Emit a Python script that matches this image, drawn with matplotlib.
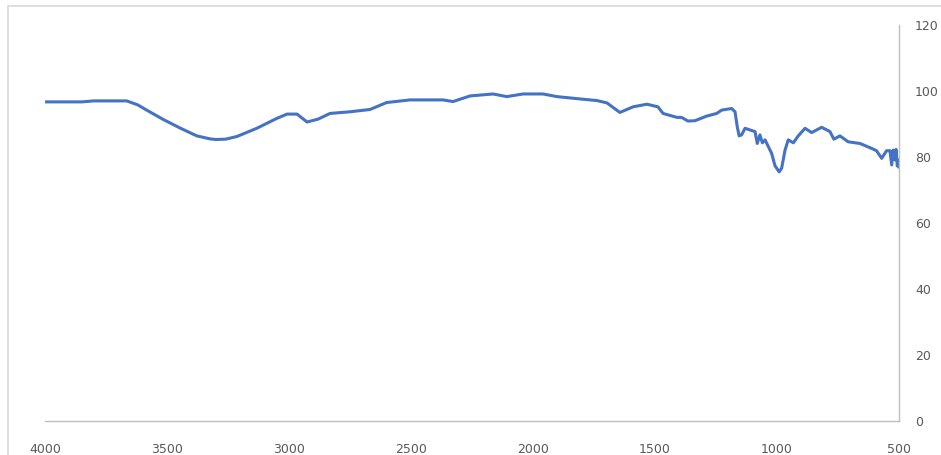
import matplotlib.pyplot as plt
from matplotlib.patches import Rectangle

# wavenumber (cm-1) and transmittance (%)
wavenumber = [4000, 3900, 3850, 3800, 3700, 3665, 3620, 3583, 3516, 3447, 3378, 3324, 3300,
              3260, 3214, 3132, 3050, 3008, 2967, 2926, 2880, 2832, 2750, 2668, 2600,
              2504, 2369, 2328, 2258, 2164, 2107, 2041, 1959, 1902, 1808, 1738, 1697,
              1644, 1590, 1533, 1488, 1467, 1410, 1391, 1365, 1336, 1288, 1247, 1227,
              1186, 1172, 1163, 1155, 1145, 1131, 1111, 1090, 1081, 1070, 1060, 1049,
              1022, 1008, 991, 981, 967, 954, 933, 913, 885, 858, 817, 783, 767, 742,
              708, 660, 612, 592, 571, 551, 537, 530, 524, 517, 512, 507, 503, 500]
transmittance = [96.7, 96.7, 96.7, 97.0, 97.0, 97.0, 95.8, 94.2, 91.4, 88.8, 86.4, 85.5, 85.3,
                 85.4, 86.2, 88.7, 91.7, 93.0, 93.0, 90.6, 91.5, 93.2, 93.7, 94.4, 96.5,
                 97.3, 97.3, 96.8, 98.5, 99.1, 98.3, 99.1, 99.1, 98.3, 97.6, 97.1, 96.4,
                 93.5, 95.2, 96.0, 95.2, 93.2, 92.0, 92.0, 90.9, 91.0, 92.4, 93.2, 94.2,
                 94.7, 93.7, 89.2, 86.4, 86.7, 88.7, 88.2, 87.7, 84.1, 86.7, 84.3, 85.2,
                 81.1, 77.3, 75.5, 76.6, 82.1, 85.2, 84.3, 86.4, 88.7, 87.4, 89.0, 87.7,
                 85.4, 86.4, 84.6, 84.1, 82.6, 81.9, 79.6, 81.9, 81.9, 77.6, 82.1, 79.1,
                 82.3, 77.3, 79.1, 77.0]

x_ticks = [4000, 3500, 3000, 2500, 2000, 1500, 1000, 500]
y_ticks = [0, 20, 40, 60, 80, 100, 120]

W, H = 941, 455
fig = plt.figure(figsize=(W / 100, H / 100), dpi=100)
plt.rcParams['font.family'] = ['DejaVu Sans']

# chart area border (runs off the right and bottom edge)
fig.patches.append(Rectangle((8 / W, -0.1), 1.1, 1.1 - 6 / H,
                             transform=fig.transFigure, fill=False,
                             edgecolor='#D9D9D9', linewidth=1.2))

ax = fig.add_axes([45 / W, (H - 421) / H, (899 - 45) / W, (421 - 25) / H])
ax.plot(wavenumber, transmittance, color='#4472C4', linewidth=2.2,
        solid_joinstyle='round')

ax.set_xlim(4000, 500)
ax.set_ylim(0, 120)
ax.set_xticks(x_ticks)
ax.set_yticks(y_ticks)

ax.yaxis.tick_right()
for s in ['top', 'left']:
    ax.spines[s].set_visible(False)
for s in ['bottom', 'right']:
    ax.spines[s].set_color('#BFBFBF')
    ax.spines[s].set_linewidth(1.0)

ax.tick_params(axis='both', length=0, colors='#595959', labelsize=9)
ax.tick_params(axis='x', pad=15.5)
ax.tick_params(axis='y', pad=11.5)
for lab in ax.get_yticklabels():
    lab.set_horizontalalignment('left')

fig.savefig('out.png', dpi=100)
